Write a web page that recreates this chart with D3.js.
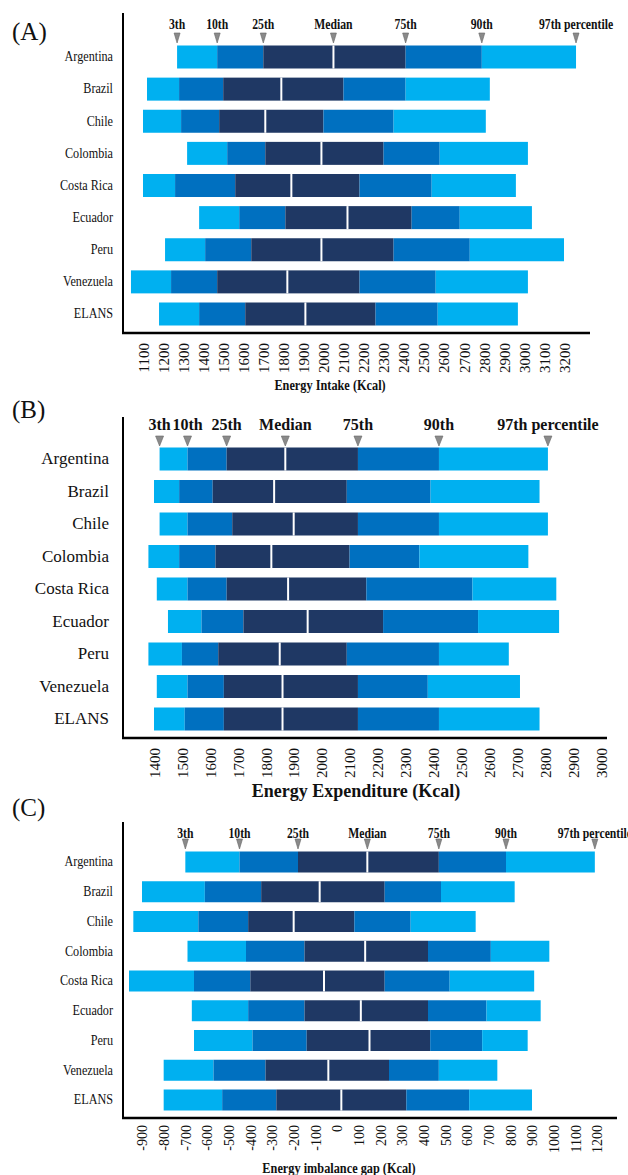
<!DOCTYPE html>
<html>
<head>
<style>
  body { margin: 0; background: #fff; }
  svg text { font-family: "Liberation Serif", "Times New Roman", serif; fill: #111; }
</style>
</head>
<body>
<svg id="chart" width="628" height="1175"></svg>
<script src="https://cdn.jsdelivr.net/npm/d3@7"></script>
<script>
    const countries = ["Argentina", "Brazil", "Chile", "Colombia", "Costa Rica", "Ecuador", "Peru", "Venezuela", "ELANS"];
    const percentiles = ["3th", "10th", "25th", "Median", "75th", "90th", "97th percentile"];

    // each row: 3rd, 10th, 25th, 50th, 75th, 90th, 97th percentile (kcal)
    const intake = [
        [1270, 1470, 1700, 2050, 2410, 2790, 3260],
        [1120, 1280, 1500, 1790, 2100, 2410, 2830],
        [1100, 1290, 1480, 1710, 2000, 2350, 2810],
        [1320, 1520, 1710, 1990, 2300, 2580, 3020],
        [1100, 1260, 1560, 1840, 2180, 2540, 2960],
        [1380, 1580, 1810, 2120, 2440, 2680, 3040],
        [1210, 1410, 1640, 1990, 2350, 2730, 3200],
        [1040, 1240, 1470, 1820, 2180, 2560, 3020],
        [1180, 1380, 1610, 1910, 2260, 2570, 2970]
    ];
    const intakeTicks = [1100, 1200, 1300, 1400, 1500, 1600, 1700, 1800, 1900, 2000, 2100,
        2200, 2300, 2400, 2500, 2600, 2700, 2800, 2900, 3000, 3100, 3200];

    const expenditure = [
        [1420, 1520, 1660, 1870, 2130, 2420, 2810],
        [1400, 1490, 1610, 1830, 2090, 2390, 2780],
        [1420, 1520, 1680, 1900, 2130, 2420, 2810],
        [1380, 1490, 1620, 1820, 2100, 2350, 2740],
        [1410, 1520, 1660, 1880, 2160, 2540, 2840],
        [1450, 1570, 1720, 1950, 2220, 2560, 2850],
        [1380, 1500, 1630, 1850, 2090, 2420, 2670],
        [1410, 1520, 1650, 1860, 2130, 2380, 2710],
        [1400, 1510, 1650, 1860, 2130, 2420, 2780]
    ];
    const expenditureTicks = [1400, 1500, 1600, 1700, 1800, 1900, 2000, 2100, 2200,
        2300, 2400, 2500, 2600, 2700, 2800, 2900, 3000];

    const gap = [
        [-700, -450, -180, 140, 470, 780, 1190],
        [-900, -610, -350, -80, 220, 480, 820],
        [-940, -640, -410, -200, 80, 340, 640],
        [-690, -420, -150, 130, 420, 710, 980],
        [-960, -660, -400, -60, 220, 520, 910],
        [-670, -410, -150, 110, 420, 690, 940],
        [-660, -390, -140, 150, 430, 670, 880],
        [-800, -570, -330, -40, 240, 470, 740],
        [-800, -530, -280, 20, 320, 610, 900]
    ];
    const gapTicks = [-900, -800, -700, -600, -500, -400, -300, -200, -100, 0, 100,
        200, 300, 400, 500, 600, 700, 800, 900, 1000, 1100, 1200];

    const segColors = ["#00b0f0", "#0070c0", "#1f3864", "#1f3864", "#0070c0", "#00b0f0"];

    const panels = [
        {
            tag: "(A)", tagY: 40, data: intake, ticks: intakeTicks, domain: [1100, 3200], range: [143, 564],
            rows: [57, 314], barH: 23, axisTop: 13, axisY: 333, axisEnd: 590,
            rowX: 113, rowFont: 14.5, rowSx: 0.84,
            pctY: 29, pctFont: 15, pctSx: 0.78, arrowTop: 33, arrowH: 10, arrowW: 6,
            tickFont: 15, tickOff: 10,
            title: "Energy Intake (Kcal)", titleX: 330, titleY: 390, titleFont: 15, titleSx: 0.82
        },
        {
            tag: "(B)", tagY: 418, data: expenditure, ticks: expenditureTicks, domain: [1400, 3000], range: [154, 601],
            rows: [459, 719], barH: 23, axisTop: 417, axisY: 738, axisEnd: 607,
            rowX: 109, rowFont: 17, rowSx: 1,
            pctY: 430, pctFont: 16, pctSx: 1, arrowTop: 436, arrowH: 10, arrowW: 8,
            tickFont: 15, tickOff: 10,
            title: "Energy Expenditure (Kcal)", titleX: 356, titleY: 797, titleFont: 18, titleSx: 1
        },
        {
            tag: "(C)", tagY: 816, data: gap, ticks: gapTicks, domain: [-900, 1200], range: [142, 597],
            rows: [862, 1100], barH: 21, axisTop: 822, axisY: 1118, axisEnd: 617,
            rowX: 113, rowFont: 14.5, rowSx: 0.84,
            pctY: 838, pctFont: 15, pctSx: 0.78, arrowTop: 839, arrowH: 10, arrowW: 6,
            tickFont: 14, tickOff: 7,
            title: "Energy imbalance gap (Kcal)", titleX: 339, titleY: 1173, titleFont: 15, titleSx: 0.82
        }
    ];

    const svg = d3.select("#chart");
    panels.forEach(drawPanel);

    function drawPanel(p) {
        let g = svg.append("g");
        let x = d3.scaleLinear().domain(p.domain).range(p.range);
        let y = d3.scalePoint().domain(countries).range(p.rows);

        g.append("text")
            .attr("x", 12).attr("y", p.tagY)
            .style("font-size", "25px")
            .text(p.tag);

        // bars, one row per country, six coloured segments
        let rows = g.selectAll("g.row")
            .data(countries)
            .enter().append("g")
            .attr("class", "row");

        rows.each(function (c, i) {
            let vals = p.data[i];
            let segs = d3.pairs(vals);
            d3.select(this).selectAll("rect")
                .data(segs)
                .enter().append("rect")
                .attr("x", d => x(d[0]))
                .attr("width", d => x(d[1]) - x(d[0]))
                .attr("y", y(c) - p.barH / 2)
                .attr("height", p.barH)
                .attr("fill", (d, j) => segColors[j]);
            d3.select(this).append("line")
                .attr("x1", x(vals[3])).attr("x2", x(vals[3]))
                .attr("y1", y(c) - p.barH / 2).attr("y2", y(c) + p.barH / 2)
                .attr("stroke", "#fff").attr("stroke-width", 2);
        });

        rows.append("text")
            .attr("transform", c => "translate(" + p.rowX + "," + (y(c) + p.rowFont * 0.3) + ") scale(" + p.rowSx + ",1)")
            .attr("text-anchor", "end")
            .style("font-size", p.rowFont + "px")
            .text(c => c);

        // percentile markers over the first row
        let ref = p.data[0];
        let marks = g.selectAll("g.pct")
            .data(percentiles)
            .enter().append("g")
            .attr("class", "pct");
        marks.append("text")
            .attr("transform", (d, i) => "translate(" + x(ref[i]) + "," + p.pctY + ") scale(" + p.pctSx + ",1)")
            .attr("text-anchor", "middle")
            .style("font-size", p.pctFont + "px")
            .style("font-weight", "bold")
            .text(d => d);
        marks.append("path")
            .attr("d", (d, i) => {
                let cx = x(ref[i]), w = p.arrowW / 2;
                return "M" + (cx - w) + "," + p.arrowTop + "L" + (cx + w) + "," + p.arrowTop +
                    "L" + cx + "," + (p.arrowTop + p.arrowH) + "Z";
            })
            .attr("fill", "#8a8a8a")
            .attr("stroke", "#666")
            .attr("stroke-width", 0.6);

        // axis frame
        g.append("line")
            .attr("x1", 123).attr("x2", 123)
            .attr("y1", p.axisTop).attr("y2", p.axisY)
            .attr("stroke", "#000").attr("stroke-width", 2);
        g.append("line")
            .attr("x1", 122).attr("x2", p.axisEnd)
            .attr("y1", p.axisY).attr("y2", p.axisY)
            .attr("stroke", "#000").attr("stroke-width", 2.5);

        let axis = g.append("g")
            .attr("transform", "translate(0," + p.axisY + ")")
            .call(d3.axisBottom(x).tickValues(p.ticks).tickSize(0).tickFormat(d => String(d)));
        axis.select(".domain").remove();
        axis.selectAll("text")
            .attr("transform", "rotate(-90)")
            .attr("x", -p.tickOff)
            .attr("y", 0)
            .attr("dy", "0.35em")
            .style("text-anchor", "end")
            .style("font-size", p.tickFont + "px")
            .style("font-family", "'Liberation Serif', 'Times New Roman', serif")
            .attr("fill", "#111");

        g.append("text")
            .attr("transform", "translate(" + p.titleX + "," + p.titleY + ") scale(" + p.titleSx + ",1)")
            .attr("text-anchor", "middle")
            .style("font-size", p.titleFont + "px")
            .style("font-weight", "bold")
            .text(p.title);
    }
</script>
</body>
</html>
